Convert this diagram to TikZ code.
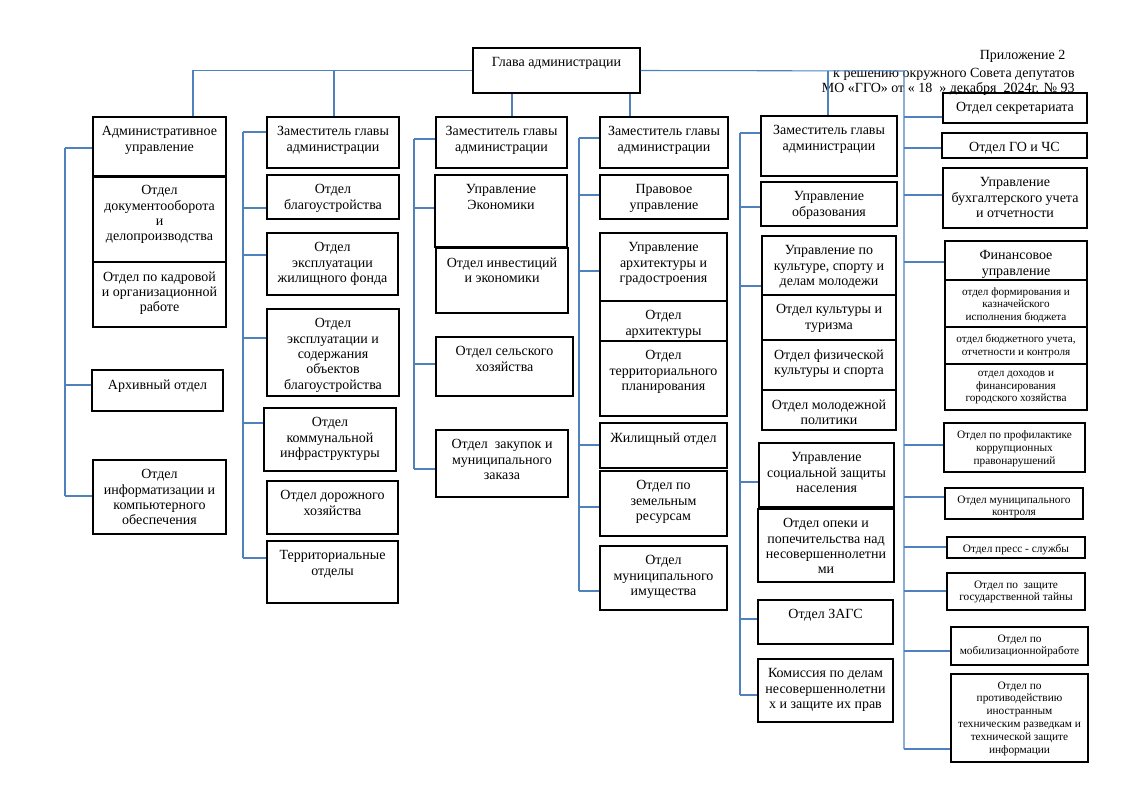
\documentclass[tikz,border=0pt]{standalone}
\usepackage{fontspec}
\setmainfont{Liberation Serif}
\usetikzlibrary{fit}
\definecolor{conncol}{RGB}{79,129,189}
\tikzset{
  boxs/.style={draw=black, line width=0.9pt, inner sep=0pt},
  txt/.style={align=center, inner sep=0pt},
  fm/.style={font=\fontsize{10.5}{11.5}\selectfont, yshift=-3pt},
  fs/.style={font=\fontsize{8.4}{9.3}\selectfont, yshift=-1.5pt},
  fr/.style={font=\fontsize{8.5}{9.6}\selectfont, yshift=-1.5pt},
  cn/.style={draw=conncol, line width=0.8pt},
}
\newcommand\obox[7]{%
  \node[boxs, fit={(#2,#3) (#4,#5)}] (#1) {};
  \node[txt, #6, anchor=north] (#1t) at ([yshift=-4.5pt]#1.north) {#7};}
\newcommand\brn[3]{\draw[cn] (#1,#3) -- (#2.west |- 0,#3);}
\begin{document}
\begin{tikzpicture}[x=0.75pt,y=-0.75pt]
\path[use as bounding box] (0,0) rectangle (1123,791);

% appendix text
\node[txt, font=\fontsize{10.5}{11.5}\selectfont, align=right, anchor=north east] (app) at (1075,50)
  {Приложение 2\hspace*{7pt}\\[2pt] к решению окружного Совета депутатов\\ МО «ГГО» от « 18~~» декабря~~2024г. № 93};

% head
\obox{glava}{473}{48}{640}{93}{fm}{Глава администрации}

% column 1
\obox{adm}{93}{117}{226}{176}{fm}{Административное\\управление}
\obox{adm2}{93}{176}{226}{262}{fm}{Отдел\\документооборота\\и\\делопроизводства}
\obox{adm3}{93}{262}{226}{327}{fm}{Отдел по кадровой\\и организационной\\работе}
\draw[line width=1.7pt] (adm.south west) -- (adm.south east);
\obox{arch}{92}{370}{223}{411}{fm}{Архивный отдел}
\obox{inf}{93}{460}{226}{534}{fm}{Отдел\\информатизации и\\компьютерного\\обеспечения}

% column 2
\obox{z1}{267}{117}{399}{168}{fm}{Заместитель главы\\администрации}
\obox{z1a}{267}{175}{399}{219}{fm}{Отдел\\благоустройства}
\obox{z1b}{267}{233}{398}{295}{fm}{Отдел\\эксплуатации\\жилищного~фонда}
\obox{z1c}{267}{309}{399}{396}{fm}{Отдел\\эксплуатации и\\содержания\\объектов\\благоустройства}
\obox{z1d}{264}{408}{396}{471}{fm}{Отдел\\коммунальной\\инфраструктуры}
\obox{z1e}{267}{481}{398}{534}{fm}{Отдел дорожного\\хозяйства}
\obox{z1f}{267}{541}{398}{603}{fm}{Территориальные\\отделы}

% column 3
\obox{z2}{436}{117}{567}{168}{fm}{Заместитель главы\\администрации}
\obox{z2a}{435}{175}{567}{247}{fm}{Управление\\Экономики}
\obox{z2b}{436}{248}{568}{313}{fm}{Отдел инвестиций\\и экономики}
\obox{z2c}{436}{337}{573}{396}{fm}{Отдел сельского\\хозяйства}
\obox{z2d}{436}{430}{568}{497}{fm}{Отдел\enspace закупок и\\муниципального\\заказа}

% column 4
\obox{z3}{600}{117}{728}{168}{fm}{Заместитель главы\\администрации}
\obox{z3a}{600}{175}{728}{219}{fm}{Правовое\\управление}
\obox{z3b}{600}{233}{727}{301}{fm}{Управление\\архитектуры и\\градостроения}
\obox{z3c}{600}{301}{727}{341}{fm}{Отдел\\архитектуры}
\obox{z3d}{600}{341}{727}{416}{fm}{Отдел\\территориального\\планирования}
\obox{z3e}{600}{423}{727}{468}{fm}{Жилищный отдел}
\obox{z3f}{600}{471}{727}{536}{fm}{Отдел по\\земельным\\ресурсам}
\obox{z3g}{600}{546}{727}{610}{fm}{Отдел\\муниципального\\имущества}

% column 5
\obox{z4}{761}{116}{897}{176}{fm}{Заместитель главы\\администрации}
\obox{z4a}{761}{182}{897}{226}{fm}{Управление\\образования}
\obox{z4b}{762}{236}{896}{295}{fm}{Управление по\\культуре, спорту и\\делам молодежи}
\obox{z4c}{762}{295}{896}{340}{fm}{Отдел культуры и\\туризма}
\obox{z4d}{762}{340}{896}{390}{fm}{Отдел физической\\культуры и спорта}
\obox{z4e}{762}{390}{896}{430}{fm}{Отдел молодежной\\политики}
\obox{z4f}{759}{443}{894}{507}{fm}{Управление\\социальной защиты\\населения}
\obox{z4g}{758}{509}{894}{582}{fm}{Отдел опеки и\\попечительства над\\несовершеннолетни\\ми}
\obox{z4h}{758}{600}{893}{644}{fm}{Отдел ЗАГС}
\obox{z4i}{758}{659}{893}{722}{fm}{Комиссия по делам\\несовершеннолетни\\х и защите их прав}

% right column
\obox{r1}{943}{93}{1087}{123}{fm}{Отдел секретариата}
\obox{r2}{942}{133}{1087}{158}{fm}{Отдел ГО и ЧС}
\obox{r3}{943}{168}{1087}{228}{fm}{Управление\\бухгалтерского учета\\и отчетности}
\obox{r4}{945}{241}{1087}{280}{fm}{Финансовое\\управление}
\obox{r4a}{945}{280}{1087}{327}{fs}{отдел формирования и\\казначейского\\исполнения бюджета}
\obox{r4b}{945}{327}{1087}{364}{fs}{отдел бюджетного учета,\\отчетности и контроля}
\obox{r4c}{945}{364}{1087}{410}{fs}{отдел доходов и\\финансирования\\городского хозяйства}
\obox{r5}{944}{423}{1085}{472}{fr}{Отдел по профилактике\\коррупционных\\правонарушений}
\obox{r6}{945}{488}{1083}{519}{fr}{Отдел муниципального\\контроля}
\obox{r7}{947}{537}{1085}{558}{fr}{Отдел пресс - службы}
\obox{r8}{947}{573}{1085}{610}{fr}{Отдел по\enspace защите\\государственной тайны}
\obox{r9}{951}{627}{1088}{665}{fr}{Отдел по\\мобилизационнойработе}
\obox{r10}{951}{674}{1088}{762}{fr}{Отдел по\\противодействию\\иностранным\\техническим разведкам и\\технической защите\\информации}

% top connectors
\draw[cn] (glava.west) -| (adm.north -| 193,0);
\draw[cn] (334,71) -- (z1.north -| 334,0);
\draw[cn] (glava.south -| 512,0) -- (z2.north -| 512,0);
\draw[cn] (glava.south -| 630,0) -- (z3.north -| 630,0);
\draw[cn] (glava.east) -- (904,71) -- (904,749);
\draw[cn] (828,71) -- (z4.north -| 828,0);

% buses
\draw[cn] (65,148) -- (65,496);
\brn{65}{adm}{148}\brn{65}{arch}{385}\brn{65}{inf}{496}

\draw[cn] (243,132) -- (243,558);
\brn{243}{z1}{132}\brn{243}{z1a}{208}\brn{243}{z1b}{255}\brn{243}{z1c}{338}
\brn{243}{z1d}{423}\brn{243}{z1f}{558}

\draw[cn] (414,139) -- (414,469);
\brn{414}{z2}{139}\brn{414}{z2a}{208}\brn{414}{z2c}{364}\brn{414}{z2d}{469}

\draw[cn] (579,138) -- (579,591);
\brn{579}{z3}{138}\brn{579}{z3a}{195}\brn{579}{z3b}{271}\brn{579}{z3e}{445}
\brn{579}{z3f}{507}\brn{579}{z3g}{591}

\draw[cn] (740,133) -- (740,695);
\brn{740}{z4}{133}\brn{740}{z4a}{207}\brn{740}{z4b}{286}\brn{740}{z4f}{482}
\brn{740}{z4h}{619}\brn{740}{z4i}{695}

\brn{904}{r1}{117}\brn{904}{r2}{148}\brn{904}{r3}{195}\brn{904}{r4}{262}
\brn{904}{r5}{445}\brn{904}{r6}{497}\brn{904}{r7}{547}\brn{904}{r8}{591}
\brn{904}{r9}{651}\brn{904}{r10}{749}
\end{tikzpicture}
\end{document}
